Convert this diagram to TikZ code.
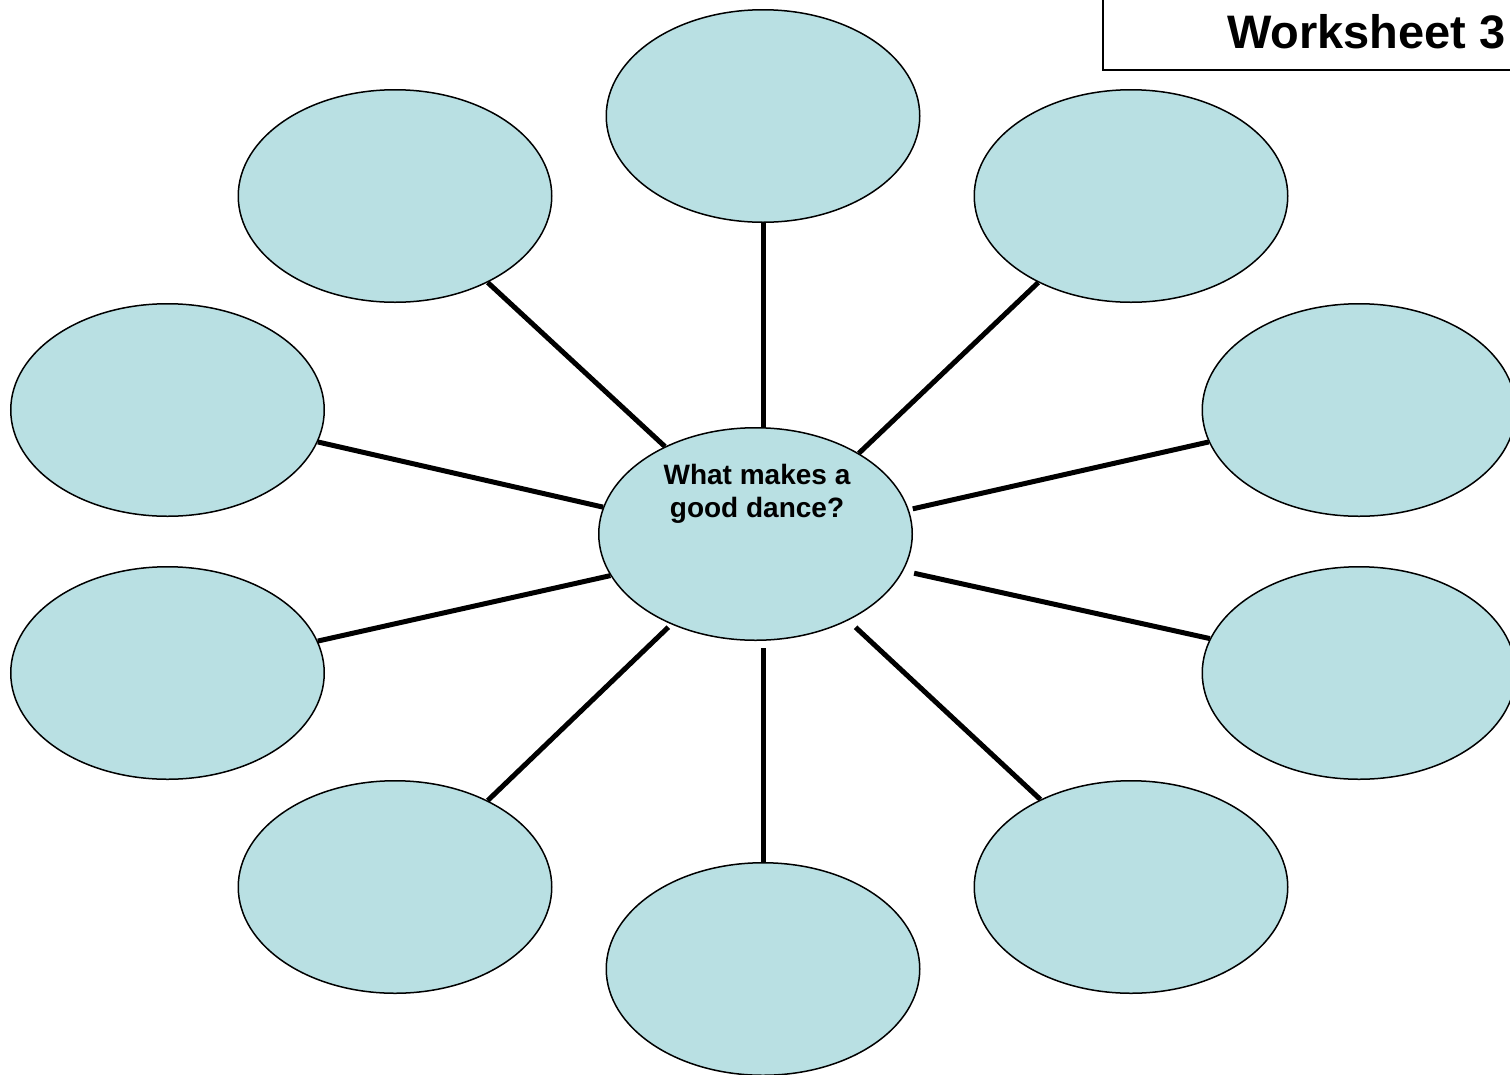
\documentclass[tikz,border=0pt]{standalone}
\usepackage{fontspec}
\setmainfont{Liberation Sans}
\usetikzlibrary{shapes.geometric}
\definecolor{bubble}{RGB}{185,224,227}
\begin{document}
\begin{tikzpicture}[x=1pt,y=-1pt,
  bub/.style={ellipse, draw=black, line width=1.5pt, fill=bubble,
    minimum width=313.5pt, minimum height=212.5pt, inner sep=0pt},
  spoke/.style={line width=5pt, draw=black}]
\useasboundingbox (0,0) rectangle (1510,1074);
% worksheet box
\draw[line width=1.5pt] (1103,-5) -- (1103,70) -- (1520,70);
\node (ws) [font=\bfseries\fontsize{47}{56}\selectfont, anchor=base east, inner sep=0pt] at (1506,48) {Worksheet 3};
% bubbles
\node[bub] (top) at (763,116) {};
\node[bub] (ul) at (395,196) {};
\node[bub] (ur) at (1131,196) {};
\node[bub] (lu) at (167.5,410) {};
\node[bub] (ru) at (1359,410) {};
\node[bub] (ll) at (167.5,673) {};
\node[bub] (rl) at (1359,673) {};
\node[bub] (dl) at (395,887) {};
\node[bub] (dr) at (1131,887) {};
\node[bub] (bot) at (763,969) {};
\node[bub] (c) at (755.5,534) {};
\node (q) [font=\bfseries\fontsize{28}{33}\selectfont, align=center, inner sep=0pt] at (757,494) {What makes a\\good dance?};
% spokes
\draw[spoke] (top.south) -- (top.south |- c.north);
\draw[spoke, shorten >=7pt] (bot.north) -- (bot.north |- c.south);
\draw[spoke] (ul.317.5) -- (c.136.8);
\draw[spoke] (ur.223.1) -- (c.38.7);
\draw[spoke] (lu.-12.4) -- (c.170);
\draw[spoke] (ll.12.4) -- (c.196);
\draw[spoke, shorten >=4pt] (ru.192) -- (c.9.4);
\draw[spoke, shorten >=11pt] (rl.167.6) -- (c.-14.6);
\draw[spoke, shorten >=4pt] (dl.43.1) -- (c.227.7);
\draw[spoke, shorten >=10pt] (dr.136.3) -- (c.-43.4);
\end{tikzpicture}
\end{document}
